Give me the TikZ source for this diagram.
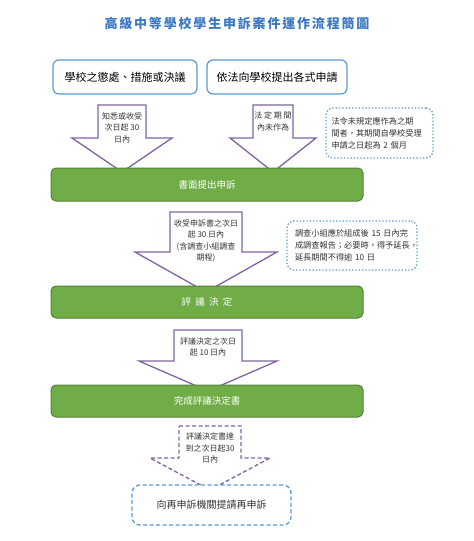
\documentclass[tikz,border=0pt]{standalone}
\usepackage{fontspec}
\setmainfont{Noto Sans CJK TC}
\definecolor{ttl}{HTML}{3A78C3}
\definecolor{bbl}{HTML}{5B9BD5}
\definecolor{grn}{HTML}{70AD47}
\definecolor{grnd}{HTML}{548235}
\definecolor{pur}{HTML}{8064A2}
\definecolor{txt}{HTML}{333333}
\newcommand\blkarrow[7]{%
  \draw[#1] (#2-#3,#5) -- (#2+#3,#5) -- (#2+#3,#6) -- (#2+#4,#6) -- (#2,#7)
    -- (#2-#4,#6) -- (#2-#3,#6) -- cycle;}
\tikzset{
  srcbox/.style={draw=bbl, line width=1.2pt, rounded corners=6pt, fill=white,
    text=black, font=\fontsize{11}{13}\selectfont, inner sep=0pt},
  grnbox/.style={draw=grnd, line width=1pt, rounded corners=5pt, fill=grn,
    text=white, font=\fontsize{9.5}{11}\selectfont, minimum width=312pt, inner sep=0pt},
  notebox/.style={draw=bbl, dotted, line width=1.3pt, rounded corners=7pt,
    fill=white, text=txt, align=left, font=\fontsize{8.2}{12}\selectfont, inner sep=0pt},
  arrowshape/.style={draw=pur, line width=1.3pt, fill=white, line join=miter},
  arrowtext/.style={text=txt, align=center, font=\fontsize{8}{11.5}\selectfont},
}
\begin{document}
\begin{tikzpicture}[x=1pt,y=-1pt]
\useasboundingbox[fill=white] (0,0) rectangle (474,541);
% title
\node[text=ttl, font=\fontsize{13}{15}\selectfont\bfseries\addfontfeature{LetterSpace=14}] (title) at (237,24) {高級中等學校學生申訴案件運作流程簡圖};
% source boxes
\node[srcbox, minimum width=144pt, minimum height=34pt] (src1) at (125,77) {學校之懲處、措施或決議};
\node[srcbox, minimum width=140pt, minimum height=34pt] (src2) at (277,77) {依法向學校提出各式申請};
% arrows
\blkarrow{arrowshape}{122}{24}{50}{105}{138}{172}
\blkarrow{arrowshape}{273}{20}{43}{105}{138}{172}
\blkarrow{arrowshape}{206}{36}{71}{212}{252}{292}
\blkarrow{arrowshape}{208}{34}{69}{330}{361}{391}
\blkarrow{arrowshape, dashed, dash pattern=on 4pt off 2.5pt}{210}{31}{60}{426}{458}{490}
\node[arrowtext] (a1) at (122,127.5) {知悉或收受\\次日起 30\\日內};
\node[arrowtext] (a2) at (273,121.5) {法 定 期 間\\內未作為};
\node[arrowtext] (a3) at (206,241) {收受申訴書之次日\\起 30 日內\\(含調查小組調查\\期程)};
\node[arrowtext] (a4) at (208,347) {評議決定之次日\\起 10 日內};
\node[arrowtext] (a5) at (210,448) {評議決定書達\\到之次日起30\\日內};
% notes
\node[notebox, minimum width=107pt, minimum height=50pt, text width=96pt] (n1) at (379.5,133) {法令未規定應作為之期\\間者，其期間自學校受理\\申請之日起為 2 個月};
\node[notebox, minimum width=130pt, minimum height=49pt, text width=114pt] (n2) at (352,245.5) {調查小組應於組成後 15 日內完\\成調查報告；必要時，得予延長，\\延長期間不得逾 10 日};
% green boxes
\node[grnbox, minimum height=33pt] (g1) at (207,184.5) {書面提出申訴};
\node[grnbox, minimum height=32pt] (g2) at (207,302) {評\ \ 議\ \ 決\ \ 定};
\node[grnbox, minimum height=32pt] (g3) at (207,401) {完成評議決定書};
% final box
\node[draw=bbl, fill=white, dashed, dash pattern=on 4pt off 2.5pt, line width=1.3pt, rounded corners=8pt,
  minimum width=159pt, minimum height=40pt, text=txt, font=\fontsize{10}{12}\selectfont] (fin) at (211.5,505) {向再申訴機關提請再申訴};
\end{tikzpicture}
\end{document}
